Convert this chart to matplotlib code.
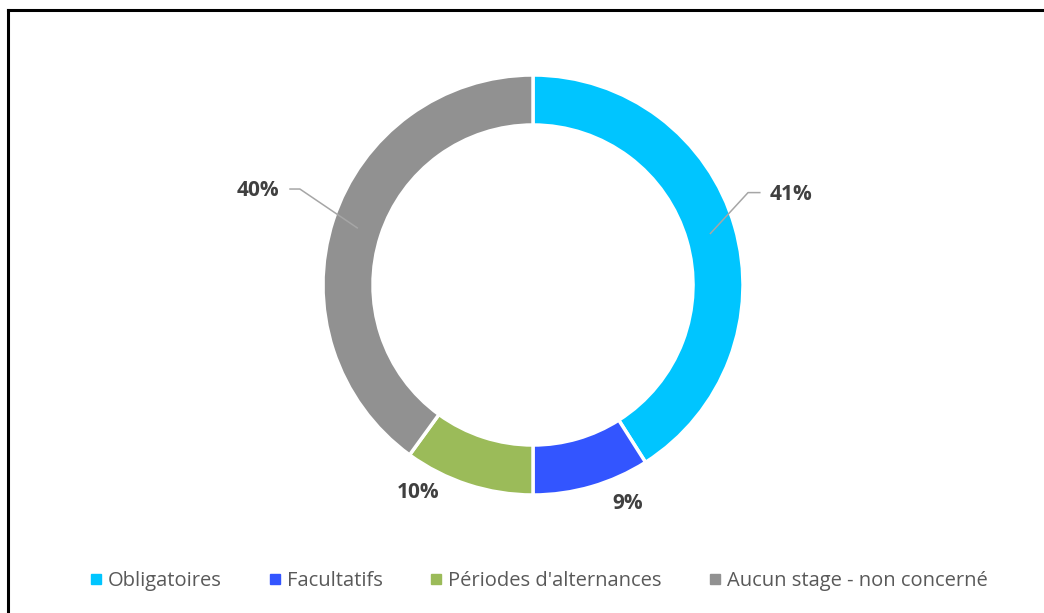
import numpy as np
import matplotlib
matplotlib.use("Agg")
import matplotlib.pyplot as plt
from matplotlib.lines import Line2D

categories = ["Obligatoires", "Facultatifs", "Périodes d'alternances", "Aucun stage - non concerné"]
values = [41, 9, 10, 40]
colors = ["#00C5FF", "#3355FF", "#9BBB59", "#919191"]
labels = ["41%", "9%", "10%", "40%"]

plt.rcParams['font.family'] = ['Open Sans', 'DejaVu Sans']

W, H = 1044, 613
fig = plt.figure(figsize=(W / 100, H / 100), dpi=100)

# frame (left + top visible)
fig.add_artist(Line2D([8 / W, 8 / W], [0, 1 - 10 / H], color="black", lw=2.2, transform=fig.transFigure))
fig.add_artist(Line2D([8 / W, 1], [1 - 10 / H, 1 - 10 / H], color="black", lw=2.2, transform=fig.transFigure))

cx, cy, R = 533, 285, 210
ax = fig.add_axes([(cx - R) / W, (H - cy - R) / H, 2 * R / W, 2 * R / H])

wedges, _ = ax.pie(values, colors=colors, startangle=90, counterclock=False, radius=1,
                   wedgeprops=dict(width=0.238, edgecolor="white", linewidth=2.5))
ax.set_xlim(-1, 1)
ax.set_ylim(-1, 1)
ax.set_aspect("equal")
ax.axis("off")

# label placement (data coords) and leader elbows
label_pos = {0: (1.23, 0.43), 1: (0.45, -1.04), 2: (-0.545, -0.986), 3: (-1.31, 0.45)}
elbows = {0: [(1.024, 0.44), (1.08, 0.44)], 3: [(-1.11, 0.457), (-1.157, 0.457)]}

total = sum(values)
cum = 0
for i, v in enumerate(values):
    mid = 90 - 360 * (cum + v / 2) / total
    cum += v
    x, y = label_pos[i]
    ax.text(x, y, labels[i], ha="center", va="center", fontsize=15, fontweight="bold", color="#404040")
    if i in elbows:
        r = 0.88
        px, py = r * np.cos(np.radians(mid)), r * np.sin(np.radians(mid))
        pts = [(px, py)] + elbows[i]
        ax.plot([p[0] for p in pts], [p[1] for p in pts], color="#A6A6A6", lw=1.1, clip_on=False)

handles = [Line2D([0], [0], marker="s", color="none", markerfacecolor=c, markeredgecolor=c, markersize=6.5)
           for c in colors]
leg = fig.legend(handles, categories, loc="center", bbox_to_anchor=(539 / W, 1 - 581 / H), ncol=4,
                 frameon=False, fontsize=14.5, handlelength=0.55, handletextpad=0.3, columnspacing=2.4,
                 labelcolor="#595959")

fig.savefig("out.png", dpi=100, facecolor="white")
